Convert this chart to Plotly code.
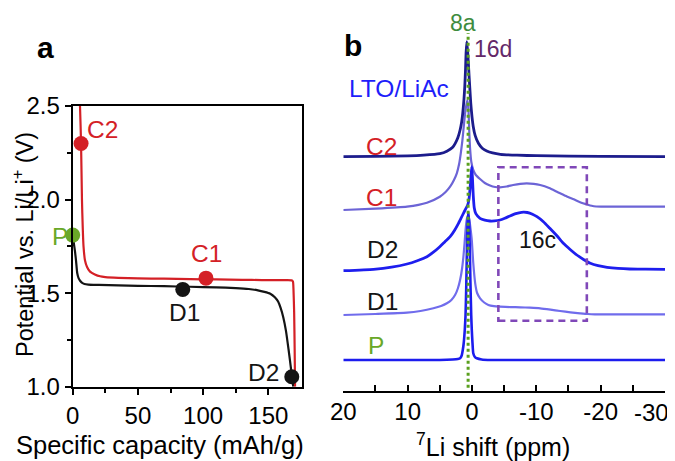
import plotly.graph_objects as go

# page body adds an 8px margin, so the figure is 8px smaller and coordinates are shifted
PAGE_W, PAGE_H = 675, 461
BODY = 8
W, H = PAGE_W - BODY, PAGE_H - BODY
FONT = "Liberation Sans, Arial, sans-serif"

# ---------------- Panel a data (capacity mAh/g, potential V) ----------------
discharge_cap = [0, 1.0, 1.8, 2.6, 3.5, 4.5, 5.8, 7, 9, 12, 20, 35, 50, 70, 90, 110, 125, 135,
                 142, 147, 151.5, 155, 157.5, 159.5, 161.5, 163.5, 165.5, 167.5, 168.5, 169.2]
discharge_v = [1.81, 1.76, 1.72, 1.67, 1.606, 1.58, 1.565, 1.556, 1.549, 1.546, 1.544, 1.541,
               1.539, 1.537, 1.534, 1.531, 1.527, 1.522, 1.515, 1.507, 1.497, 1.478, 1.455,
               1.42, 1.37, 1.3, 1.2, 1.09, 1.03, 1.0]

charge_cap = [170.5, 170.2, 169.8, 169.3, 168.9, 168.2, 160, 145, 130, 110, 90, 70, 50, 35, 25,
              21, 17, 13.3, 11, 9.4, 8.3, 7.7, 7.1, 6.4, 5.6, 5.0]
charge_v = [1.0, 1.2, 1.4, 1.52, 1.562, 1.568, 1.569, 1.570, 1.571, 1.573, 1.575, 1.577, 1.579,
            1.582, 1.586, 1.59, 1.6, 1.615, 1.64, 1.676, 1.75, 1.85, 2.0, 2.3, 2.5, 2.6]

state_names = ["P", "C2", "C1", "D1", "D2"]
state_cap = [0, 6.4, 102.2, 84.4, 168.0]
state_v = [1.81, 2.30, 1.58, 1.52, 1.053]

# ---------------- Panel b data (7Li shift ppm, intensity a.u.) ----------------
c2_ppm = [20, 15, 10, 7.5, 5, 3.9, 3.0, 2.6, 2.2, 1.85, 1.6, 1.43, 1.25, 1.12, 1.0, 0.92, 0.8,
          0.65, 0.5, 0.35, 0.19, 0.0, -0.2, -0.5, -1.0, -1.6, -2.3, -3.2, -4.4, -7, -10, -20, -30]
c2_int = [0, 0.3, 0.8, 1.5, 3, 5.5, 9.5, 13.4, 19, 26.7, 35, 43.7, 57, 70, 88, 103.7, 115,
          103, 86.7, 70, 53.7, 40, 30, 21, 13.4, 8.5, 5.7, 3.8, 2.4, 1.5, 1, 0.3, 0]

c1_ppm = [20, 15, 10.1, 7.0, 5.0, 4.1, 3.4, 2.8, 2.36, 2.0, 1.74, 1.5, 1.33, 1.07, 0.85, 0.7,
          0.55, 0.4, 0.3, 0.1, -0.2, -0.6, -1.25, -2.0, -2.8, -3.6, -4.35, -5.4, -6.4, -7.5,
          -8.5, -9.6, -10.6, -12, -13.2, -14.5, -15.8, -17.0, -17.85, -18.6, -19.3, -20.5, -30]
c1_int = [0, 1.3, 3.3, 7.3, 13.3, 18, 23.3, 30, 36.7, 46, 56.7, 69, 80, 96.7, 106, 110,
          100, 75, 62, 48, 40, 35, 31, 27, 24.5, 23, 22.7, 23.5, 25, 26.2,
          26.7, 26.2, 25, 22, 18.3, 14.3, 10.7, 7.3, 5.6, 4.2, 3.5, 3.3, 3.3]

d2_ppm = [20, 15.3, 12.5, 10.1, 8.5, 7.0, 6.0, 5.0, 4.2, 3.4, 2.7, 2.1, 1.7, 1.33, 1.0, 0.65,
          0.45, 0.3, 0.15, 0.03, -0.08, -0.2, -0.35, -0.6, -1.25, -2.0, -2.8, -3.5, -4.35,
          -5.1, -5.9, -6.8, -7.7, -8.6, -9.4, -10.1, -11.1, -12.1, -13.2, -14.2, -15.3,
          -16.3, -17.4, -18.4, -19.6, -21.0, -22.7, -24.5, -27, -30]
d2_int = [0, 1.4, 3.5, 6.7, 10, 14, 18.5, 24, 29, 34, 40.5, 47.4, 52.5, 57.4, 61.5, 66,
          72, 82, 95, 104, 92, 75, 63, 57, 52.4, 50.5, 49.7, 49.8, 50.7,
          52.5, 54.7, 57, 58.4, 58.2, 56.5, 54, 49, 42.4, 35, 27.4, 21,
          15.7, 11, 7.4, 5, 3.4, 2.3, 1.7, 1.5, 1.4]

d1_ppm = [20, 15, 10.1, 8, 6.0, 4.8, 3.9, 3.2, 2.63, 2.2, 1.85, 1.55, 1.33, 1.15, 1.0, 0.8,
          0.6, 0.4, 0.2, 0.03, -0.2, -0.5, -0.8, -1.26, -1.9, -2.55, -3.4, -4.35, -6, -7.5,
          -9, -10.6, -12.2, -13.7, -15.3, -16.8, -18, -19.1, -30]
d1_int = [0, 1, 2.3, 4, 6.7, 9, 11.7, 15, 20, 26.5, 35, 46, 58.3, 72, 85, 96,
          100, 95, 85, 75, 52, 31.7, 22, 16.7, 12.5, 10, 8.8, 8.3, 7.9, 7.7,
          7.3, 6.7, 5.4, 4, 2.7, 1.7, 1, 0.7, 0.7]

p_ppm = [20, 5, 3, 2.2, 1.85, 1.6, 1.43, 1.3, 1.12, 1.0, 0.9, 0.8, 0.7, 0.57, 0.45, 0.35,
         0.25, 0.12, 0.03, -0.08, -0.2, -0.45, -0.75, -1.5, -3, -30]
p_int = [0, 0, 0.5, 1, 1.7, 4.5, 10, 16, 30, 45, 70, 105, 135, 148, 138, 115,
         80, 45, 30, 17, 6.7, 3, 1.7, 0.5, 0, 0]

# stacking offsets of the spectra (a.u.)
offsets = {"P": 30.7, "D1": 75.7, "D2": 120.0, "C1": 180.7, "C2": 234.0}

site_8a_ppm = 0.6
box_16c_ppm = [-4.1, -17.85]
box_16c_int = [70.0, 223.4]

xticks_b = [20, 10, 0, -10, -20, -30]
xticklabels_b = ["20", "10", "0", "-10", "-20", "-30"]

# ---------------- helpers (page pixel -> paper) ----------------
def px(x):
    return (x - BODY) / W

def py(y):
    return 1 - (y - BODY) / H

RED = "rgb(212,32,38)"
GREEN = "rgb(106,168,40)"
BLACK = "rgb(20,20,20)"

fig = go.Figure()

# Panel a lines
fig.add_trace(go.Scatter(x=discharge_cap, y=discharge_v, mode="lines",
                         line=dict(color=BLACK, width=2.2, shape="spline", smoothing=0.6),
                         xaxis="x", yaxis="y", showlegend=False, hoverinfo="skip"))
fig.add_trace(go.Scatter(x=charge_cap, y=charge_v, mode="lines",
                         line=dict(color=RED, width=2.2, shape="spline", smoothing=0.6),
                         xaxis="x", yaxis="y", showlegend=False, hoverinfo="skip"))
marker_colors = [GREEN, RED, RED, BLACK, BLACK]
fig.add_trace(go.Scatter(x=state_cap, y=state_v, mode="markers",
                         marker=dict(color=marker_colors, size=15, line=dict(width=0)),
                         cliponaxis=False, xaxis="x", yaxis="y", showlegend=False,
                         hoverinfo="skip"))

# Panel b spectra
spectra = [
    ("C1", c1_ppm, c1_int, "rgb(108,100,214)", 2.2),
    ("D1", d1_ppm, d1_int, "rgb(112,108,236)", 2.2),
    ("P", p_ppm, p_int, "rgb(28,28,238)", 2.6),
    ("D2", d2_ppm, d2_int, "rgb(30,30,238)", 2.8),
    ("C2", c2_ppm, c2_int, "rgb(28,28,140)", 2.8),
]
for name, xs, ys, col, lw in spectra:
    off = offsets[name]
    fig.add_trace(go.Scatter(x=xs, y=[v + off for v in ys], mode="lines",
                             line=dict(color=col, width=lw, shape="spline", smoothing=0.5),
                             xaxis="x2", yaxis="y2", showlegend=False, hoverinfo="skip"))

# shapes in panel b
fig.add_shape(type="line", xref="x2", yref="y2", x0=site_8a_ppm, x1=site_8a_ppm,
              y0=3, y1=357.7, line=dict(color="rgb(90,160,30)", width=3, dash="dot"))
fig.add_shape(type="rect", xref="x2", yref="y2", x0=box_16c_ppm[0], x1=box_16c_ppm[1],
              y0=box_16c_int[0], y1=box_16c_int[1],
              line=dict(color="rgb(128,72,184)", width=2.6, dash="7px,5px"))

TS = 24
tickfont = dict(family=FONT, size=TS, color="black")

fig.update_layout(
    width=W, height=H,
    margin=dict(l=0, r=0, t=0, b=0),
    paper_bgcolor="white", plot_bgcolor="white",
    font=dict(family=FONT, color="black"),
    xaxis=dict(domain=[px(72.7), px(301.7)], range=[0, 175.6], anchor="y", automargin=False,
               showline=True, mirror=True, linecolor="black", linewidth=2.2,
               ticks="outside", ticklen=6, tickwidth=2, tickcolor="black",
               tickvals=[0, 50, 100, 150], tickfont=tickfont, showgrid=False, zeroline=False,
               minor=dict(ticks="outside", ticklen=4, tickwidth=1.6, tickcolor="black",
                          tickvals=[25, 75, 125], showgrid=False)),
    yaxis=dict(domain=[py(386.7), py(106)], range=[1.0, 2.5], anchor="x", automargin=False,
               showline=True, mirror=True, linecolor="black", linewidth=2.2,
               ticks="outside", ticklen=6, tickwidth=2, tickcolor="black",
               tickvals=[1.0, 1.5, 2.0, 2.5], tickformat=".1f", tickfont=tickfont,
               showgrid=False, zeroline=False,
               minor=dict(ticks="outside", ticklen=4, tickwidth=1.6, tickcolor="black",
                          tickvals=[1.25, 1.75, 2.25], showgrid=False)),
    xaxis2=dict(domain=[px(343.3), px(665)], range=[20, -30], anchor="y2", automargin=False,
                showline=True, linecolor="black", linewidth=2.4,
                ticks="inside", ticklen=6, tickwidth=2, tickcolor="black",
                tickvals=xticks_b[:-1], ticktext=xticklabels_b[:-1], tickfont=tickfont,
                ticklabelstandoff=-2,
                showgrid=False, zeroline=False,
                minor=dict(ticks="inside", ticklen=6, tickwidth=2, tickcolor="black",
                           dtick=5, tick0=0, showgrid=False)),
    yaxis2=dict(domain=[py(390.7), py(20)], range=[0, 370.7], anchor="x2", visible=False,
                automargin=False),
)

def ann(text, x, y, size=24.5, color="black", bold=False, angle=0, xanchor="center"):
    fig.add_annotation(text=("<b>%s</b>" % text) if bold else text,
                       x=px(x), y=py(y), xref="paper", yref="paper",
                       xanchor=xanchor, yanchor="middle", showarrow=False,
                       textangle=angle, font=dict(family=FONT, size=size, color=color))

# last tick label of panel b (kept inside the page, as in the original)
ann(xticklabels_b[-1], 651, 412, size=TS)

# panel letters
ann("a", 45, 47, size=30, bold=True)
ann("b", 353, 46, size=30, bold=True)

# axis titles
ann("Specific capacity (mAh/g)", 160, 445, size=25.5)
ann("Potential vs. Li/Li<sup>+</sup> (V)", 23, 245, size=23.5, angle=-90)
ann("<sup>7</sup>Li shift (ppm)", 493, 445, size=25)

# panel a state labels
ann("C2", 102, 129, color=RED)
ann("C1", 206, 253, color=RED)
ann("D1", 184, 312, color=BLACK)
ann("D2", 263, 372, color=BLACK)
ann("P", 60, 236, color=GREEN)

# panel b labels
ann("C2", 381, 146, color=RED)
ann("C1", 381, 198, color=RED)
ann("D2", 382, 249, color=BLACK)
ann("D1", 382, 301, color=BLACK)
ann("P", 375.5, 345, color=GREEN)
ann("LTO/LiAc", 399, 88, color="rgb(30,30,250)")
ann("8a", 462.5, 23, size=23, color="rgb(62,140,62)")
ann("16d", 492.5, 49, size=23, color="rgb(100,40,105)")
ann("16c", 537.5, 240, size=23, color=BLACK)

fig.write_html("out.html")
